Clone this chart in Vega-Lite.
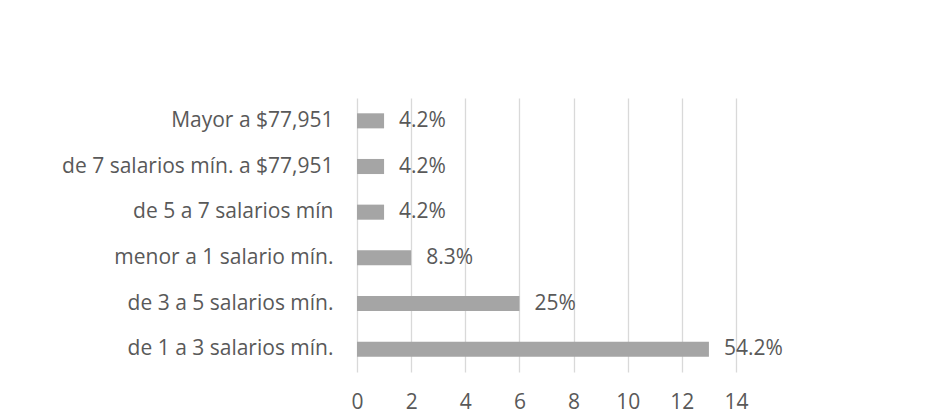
{
  "$schema": "https://vega.github.io/schema/vega-lite/v6.json",
  "width": 379,
  "height": 274,
  "autosize": {"type": "none"},
  "padding": {"left": 357, "top": 98, "right": 192, "bottom": 42},
  "background": "white",
  "config": {
    "view": {"stroke": null},
    "font": "Open Sans",
    "axis": {"labelFont": "Open Sans", "labelColor": "#595959", "labelFontSize": 21}
  },
  "data": {
    "values": [
      {"categoria": "Mayor a $77,951", "cantidad": 1, "etiqueta": "4.2%"},
      {"categoria": "de 7 salarios mín. a $77,951", "cantidad": 1, "etiqueta": "4.2%"},
      {"categoria": "de 5 a 7 salarios mín", "cantidad": 1, "etiqueta": "4.2%"},
      {"categoria": "menor a 1 salario mín.", "cantidad": 2, "etiqueta": "8.3%"},
      {"categoria": "de 3 a 5 salarios mín.", "cantidad": 6, "etiqueta": "25%"},
      {"categoria": "de 1 a 3 salarios mín.", "cantidad": 13, "etiqueta": "54.2%"}
    ]
  },
  "encoding": {
    "y": {
      "field": "categoria",
      "type": "nominal",
      "sort": null,
      "scale": {"paddingInner": 0.67, "paddingOuter": 0.335},
      "axis": {"title": null, "ticks": false, "domain": false, "labelPadding": 24, "grid": false, "labelLimit": 400}
    },
    "x": {
      "field": "cantidad",
      "type": "quantitative",
      "scale": {"domain": [0, 14], "nice": false},
      "axis": {
        "title": null,
        "values": [0, 2, 4, 6, 8, 10, 12, 14],
        "ticks": false,
        "domain": false,
        "grid": true,
        "gridColor": "#d9d9d9",
        "gridWidth": 1.3,
        "labelPadding": 19,
        "labelFlush": false
      }
    }
  },
  "layer": [
    {"mark": {"type": "bar", "color": "#a5a5a5"}},
    {
      "mark": {"type": "text", "align": "left", "baseline": "middle", "dx": 15, "fontSize": 21, "color": "#595959", "font": "Open Sans"},
      "encoding": {"text": {"field": "etiqueta"}}
    }
  ]
}
